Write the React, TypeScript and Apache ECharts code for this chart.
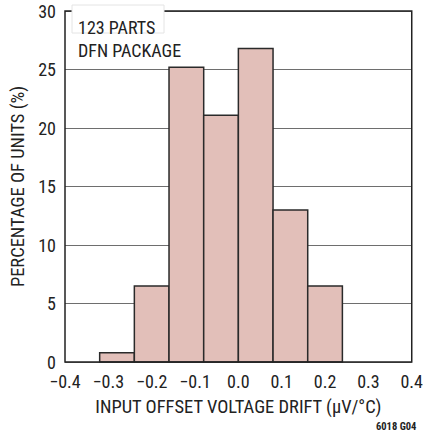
import React, { useEffect, useRef } from "react";
import * as echarts from "echarts";

// Histogram bins (µV/°C) and share of units in each bin (%)
const binStarts = [-0.32, -0.24, -0.16, -0.08, 0.0, 0.08, 0.16];
const binEnds = [-0.24, -0.16, -0.08, 0.0, 0.08, 0.16, 0.24];
const percentages = [0.8, 6.5, 25.2, 21.1, 26.8, 13.0, 6.5];

const noteLines = ["123 PARTS", "DFN PACKAGE"];
const xTitle = "INPUT OFFSET VOLTAGE DRIFT (µV/°C)";
const yTitle = "PERCENTAGE OF UNITS (%)";
const figureId = "6018 G04";

const FONT = "'Liberation Sans Narrow', 'Roboto Condensed', 'Liberation Sans', Arial, sans-serif";

export default function App() {
  const ref = useRef<HTMLDivElement>(null);

  useEffect(() => {
    document.body.style.margin = "0";
    if (!ref.current) return;
    const chart = echarts.init(ref.current, undefined, { renderer: "svg" });
    const data = binStarts.map((s, i) => [s, binEnds[i], percentages[i]]);

    chart.setOption({
      animation: false,
      backgroundColor: "#ffffff",
      grid: {
        left: 62,
        right: 13,
        top: 11,
        bottom: 70,
        show: true,
        borderColor: "#222",
        borderWidth: 1.5,
        backgroundColor: "transparent",
        z: 3,
      },
      xAxis: {
        type: "value",
        min: -0.4,
        max: 0.4,
        interval: 0.1,
        axisLine: { show: false },
        axisTick: { show: false },
        splitLine: { show: false },
        axisLabel: {
          color: "#222",
          fontFamily: FONT,
          fontSize: 18,
          margin: 10,
          formatter: (v: number) => {
            const s = Math.abs(v).toFixed(1);
            return v < -1e-9 ? "\u2212" + s : s;
          },
        },
        name: xTitle,
        nameLocation: "middle",
        nameGap: 35,
        nameTextStyle: { color: "#222", fontFamily: FONT, fontSize: 18.5 },
      },
      yAxis: {
        type: "value",
        min: 0,
        max: 30,
        interval: 5,
        axisLine: { show: false },
        axisTick: { show: false },
        splitLine: { show: true, lineStyle: { color: "#6e6e6e", width: 1 } },
        axisLabel: { color: "#222", fontFamily: FONT, fontSize: 18, margin: 9 },
        name: yTitle,
        nameLocation: "middle",
        nameGap: 38,
        nameTextStyle: { color: "#222", fontFamily: FONT, fontSize: 18.5 },
      },
      series: [
        {
          type: "custom",
          data,
          encode: { x: [0, 1], y: 2 },
          z: 2,
          renderItem: (_params: any, api: any) => {
            const topLeft = api.coord([api.value(0), api.value(2)]);
            const bottomRight = api.coord([api.value(1), 0]);
            return {
              type: "rect",
              shape: {
                x: topLeft[0],
                y: topLeft[1],
                width: bottomRight[0] - topLeft[0],
                height: bottomRight[1] - topLeft[1],
              },
              style: { fill: "#e2bfb9", stroke: "#2a2a2a", lineWidth: 1.5 },
            };
          },
        },
      ],
      graphic: [
        {
          type: "rect",
          z: 10,
          shape: { x: 72, y: 5, width: 92, height: 28 },
          style: { fill: "#ffffff", stroke: "#e4e4e4", lineWidth: 1 },
        },
        {
          type: "text",
          z: 11,
          x: 78,
          y: 16,
          style: {
            text: noteLines.join("\n"),
            fill: "#222",
            fontFamily: FONT,
            fontSize: 18,
            lineHeight: 23,
          },
        },
        {
          type: "text",
          z: 11,
          x: 376,
          y: 421,
          style: {
            text: figureId,
            fill: "#222",
            fontFamily: FONT,
            fontSize: 10.5,
            fontWeight: "bold",
          },
        },
      ],
    });

    return () => chart.dispose();
  }, []);

  return <div ref={ref} style={{ width: 426, height: 432 }} />;
}
